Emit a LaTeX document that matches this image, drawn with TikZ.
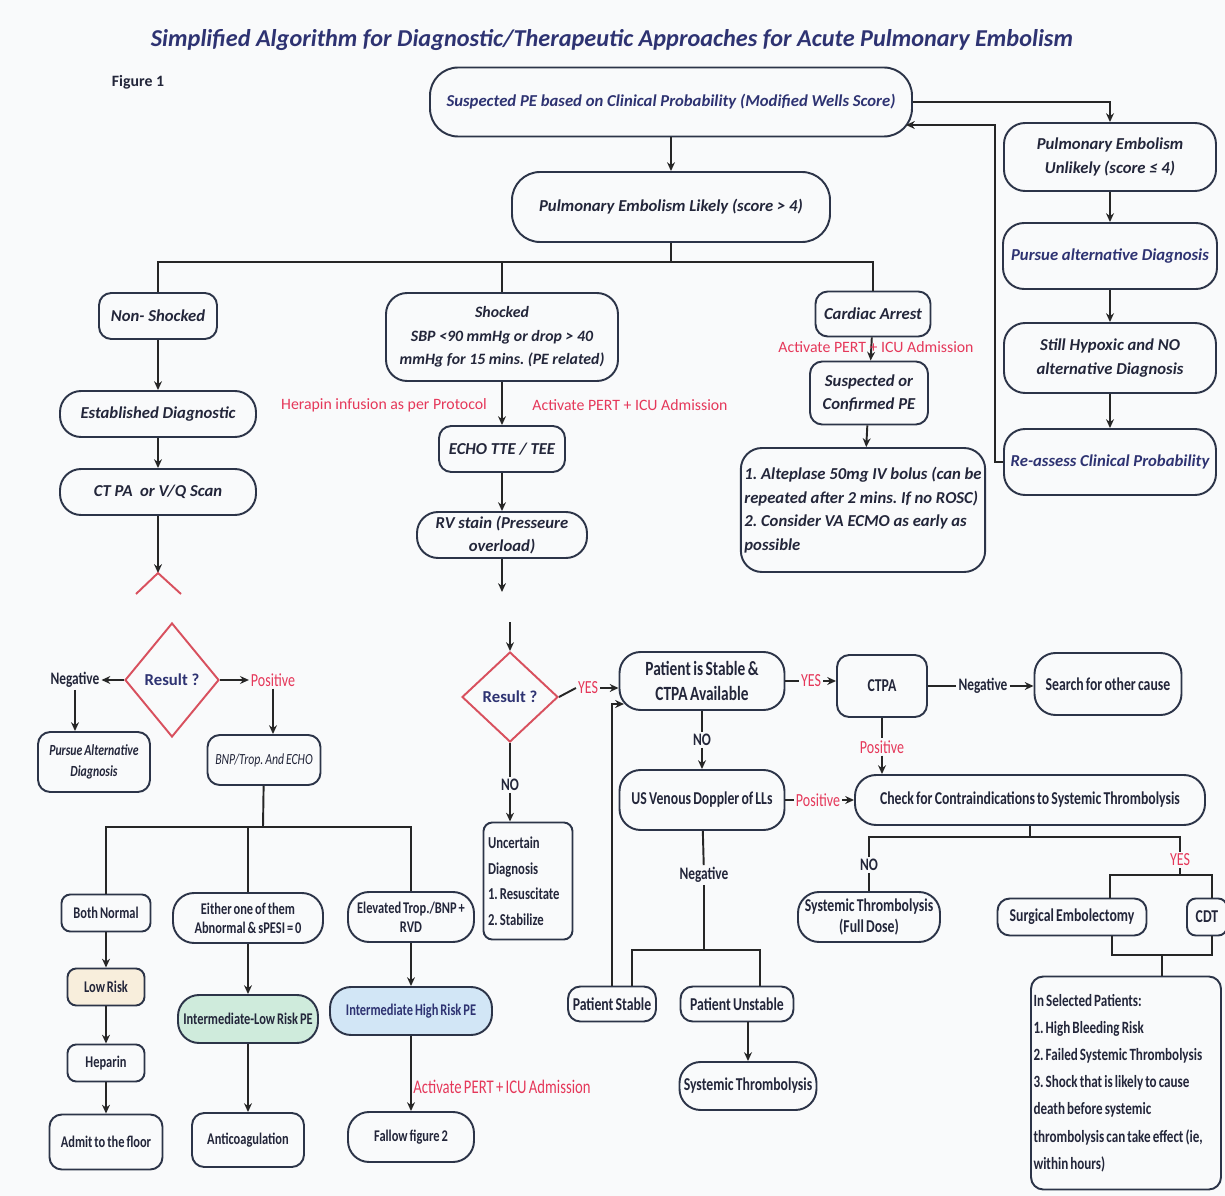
\documentclass[tikz,border=0pt]{standalone}
\usepackage{fontspec}
\setmainfont{Carlito}
\newfontfamily\narrowfont[FakeStretch=0.76,WordSpace=0.7]{Carlito}
\usetikzlibrary{arrows.meta,shapes.geometric,calc}
\frenchspacing
\newcommand\tightsp{\spaceskip=0pt\xspaceskip=0pt\relax}

\definecolor{navy}{HTML}{2E3372}
\definecolor{ink}{HTML}{23263A}
\definecolor{edgec}{HTML}{2C3448}
\definecolor{alert}{HTML}{E5385A}
\definecolor{diared}{HTML}{D8505E}
\definecolor{lowfill}{HTML}{F8EEDC}
\definecolor{midfill}{HTML}{CFEBDC}
\definecolor{highfill}{HTML}{D2E6F6}
\definecolor{bgc}{HTML}{F9FAFB}

\tikzset{
  sz/.style 2 args={minimum width=#1*0.02cm, minimum height=#2*0.02cm},
  box/.style={draw=edgec, line width=1.1pt, rounded corners=7pt, align=center, inner sep=1pt, text=ink},
  pill/.style={box, rounded corners=12pt},
  small box/.style={box, rounded corners=5pt},
  topt/.style={font=\bfseries\itshape\fontsize{9.5}{13.5}\selectfont},
  lowt/.style={font=\narrowfont\bfseries\fontsize{10.3}{14.5}\selectfont},
  tinyt/.style={font=\narrowfont\bfseries\fontsize{9.3}{11}\selectfont},
  redlab/.style={text=alert, font=\narrowfont\fontsize{10.5}{12}\selectfont, inner sep=1pt},
  toplab/.style={text=alert, font=\fontsize{9}{11}\selectfont, inner sep=1pt},
  lab/.style={text=ink, font=\narrowfont\bfseries\fontsize{10}{12}\selectfont, inner sep=1pt},
  query/.style={diamond, draw=diared, line width=1.1pt, inner sep=0pt, text=navy, font=\bfseries\fontsize{9.5}{10}\selectfont},
  conn/.style={draw=black!85, line width=1.1pt},
  >={Stealth[length=5pt,width=4.5pt]}
}

\begin{document}
\begin{tikzpicture}[x=0.02cm,y=-0.02cm]
 \fill[bgc] (0,0) rectangle (1225,1196);
 \useasboundingbox (0,0) rectangle (1225,1196);

 \node (title) at (612,40) [text=navy, font=\bfseries\itshape\fontsize{13.8}{15}\selectfont] {Simplified Algorithm for Diagnostic/Therapeutic Approaches for Acute Pulmonary Embolism};
 \node (fig) at (138,82) [text=ink, font=\bfseries\fontsize{9}{10}\selectfont] {Figure 1};

 % upper half
 \node (suspect) at (671,102) [pill, rounded corners=16pt, sz={482}{69}, topt, text=navy] {Suspected PE based on Clinical Probability (Modified Wells Score)};
 \node (likely) at (671,207) [pill, rounded corners=16pt, sz={318}{70}, topt] {Pulmonary Embolism Likely (score > 4)};
 \node (unlikely) at (1110,157) [pill, sz={212}{68}, topt] {Pulmonary Embolism\\Unlikely (score ≤ 4)};
 \node (pursue) at (1110,256) [pill, sz={214}{66}, topt, text=navy] {Pursue alternative Diagnosis};
 \node (hypoxic) at (1110,358) [pill, sz={212}{70}, topt] {Still Hypoxic and NO\\alternative Diagnosis};
 \node (reassess) at (1110,462) [pill, sz={212}{66}, topt, text=navy] {Re-assess Clinical Probability};

 \node (nonshock) at (158,316) [box, sz={118}{46}, topt] {Non- Shocked};
 \node (estab) at (158,414) [pill, sz={196}{46}, topt] {Established Diagnostic};
 \node (ctpa) at (158,492) [pill, sz={196}{46}, topt] {CT PA\ \ or V/Q Scan};

 \node (shocked) at (502,337) [pill, sz={232}{88}, topt, font=\bfseries\itshape\fontsize{9}{13.5}\selectfont] {Shocked\\SBP <90 mmHg or drop > 40\\mmHg for 15 mins. (PE related)};
 \node (heparinlab) at (384,405) [toplab] {Herapin infusion as per Protocol};
 \node (pertA) at (630,405) [toplab] {Activate PERT + ICU Admission};
 \node (echo) at (502,449) [box, sz={126}{46}, topt] {ECHO TTE / TEE};
 \node (rvstain) at (502,535) [pill, sz={170}{46}, topt] {RV stain (Presseure\\overload)};

 \node (arrest) at (873,314) [box, sz={115}{45}, topt] {Cardiac Arrest};
 \node (suspconf) at (869,393) [box, sz={118}{63}, topt] {Suspected or\\Confirmed PE};
 \node (alteplase) at (863,510) [pill, sz={243}{124}, topt, align=left, inner sep=2pt] {1. Alteplase 50mg IV bolus (can be\\repeated after 2 mins. If no ROSC)\\2. Consider VA ECMO as early as\\possible};

 \draw[conn,->] (suspect) -- (likely);
 \draw[conn,->] (suspect.east) -| (unlikely.north);
 \draw[conn,->] (unlikely) -- (pursue);
 \draw[conn,->] (pursue) -- (hypoxic);
 \draw[conn,->] (hypoxic) -- (reassess);
 \coordinate (back) at (995,125);
 \coordinate (backin) at (906,125);
 \draw[conn,->] (reassess.west) -| (back) -- (backin);

 \coordinate (split) at (671,262);
 \draw[conn] (likely) -- (split);
 \draw[conn] (nonshock.north) |- (split) -| (arrest.north);
 \draw[conn] (shocked.north) -- (shocked.north |- split);

 \draw[conn,->] (nonshock) -- (estab);
 \draw[conn,->] (estab) -- (ctpa);
 \coordinate (cutA) at (158,573);
 \draw[conn,->] (ctpa) -- (cutA);
 \draw[diared, line width=1.1pt] (136,594) -- (cutA) -- (181,594);

 \draw[conn,->] (shocked) -- (echo);
 \draw[conn,->] (echo) -- (rvstain);
 \coordinate (cutB) at (502,592);
 \draw[conn,->] (rvstain) -- (cutB);

 \draw[conn,->] (arrest) -- (suspconf);
 \node (pertB) at (876,347) [toplab] {Activate PERT + ICU Admission};
 \draw[conn,->] (suspconf) -- (alteplase);

 % lower half
 \node (res1) at (172,680) [query, sz={94}{114}] {Result ?};
 \node (neg1) at (75,680) [lab] {Negative};
 \node (pos1) at (273,680) [redlab] {Positive};
 \node (pursue2) at (94,762) [box, sz={112}{60}, font=\narrowfont\bfseries\itshape\fontsize{8.8}{12}\selectfont, text=ink] {Pursue Alternative\\Diagnosis};
 \node (bnp) at (264,760) [box, sz={113}{50}, font=\narrowfont\itshape\fontsize{8.8}{12}\selectfont] {BNP/Trop. And ECHO};

 \node (bothnorm) at (106,913) [small box, sz={89}{37}, tinyt] {Both Normal};
 \node (either) at (248,918) [pill, sz={150}{50}, tinyt] {Either one of them\\Abnormal \& sPESI = 0};
 \node (elevated) at (411,917) [pill, sz={126}{50}, tinyt] {Elevated Trop./BNP +\\RVD};
 \node (lowrisk) at (106,987) [small box, sz={77}{37}, tinyt, fill=lowfill] {Low Risk};
 \node (heparin) at (106,1063) [small box, sz={77}{37}, tinyt] {Heparin};
 \node (admit) at (106,1142) [box, sz={113}{55}, tinyt] {Admit to the floor};
 \node (intlow) at (248,1019) [pill, sz={140}{48}, tinyt, fill=midfill] {Intermediate-Low Risk PE};
 \node (anticoag) at (248,1140) [box, sz={112}{54}, tinyt] {Anticoagulation};
 \node (inthigh) at (411,1011) [pill, sz={162}{48}, tinyt, fill=highfill, text=navy] {Intermediate High Risk PE};
 \node (fallow) at (411,1137) [pill, sz={126}{50}, tinyt] {Fallow figure 2};
 \node (pertC) at (502,1087) [redlab, font=\narrowfont\fontsize{11}{12}\selectfont] {Activate PERT + ICU Admission};

 \node (res2) at (510,697) [query, sz={96}{90}] {Result ?};
 \node (no1) at (510,785) [lab] {NO};
 \node (uncertain) at (528,881) [small box, sz={89}{117}, tinyt, align=left, text width=1.6cm, font=\narrowfont\bfseries\fontsize{9.5}{14.5}\selectfont] {\tightsp Uncertain\\Diagnosis\\1. Resuscitate\\2. Stabilize};

 \node (yes1) at (588,688) [redlab] {YES};
 \node (stable) at (702,681) [pill, sz={165}{58}, font=\narrowfont\bfseries\fontsize{11.5}{14}\selectfont] {Patient is Stable \&\\CTPA Available};
 \node (yes2) at (811,681) [redlab] {YES};
 \node (ctpa2) at (882,686) [box, sz={90}{62}, lowt] {CTPA};
 \node (neg2) at (983,686) [lab] {Negative};
 \node (search) at (1108,684) [pill, sz={147}{62}, lowt] {Search for other cause};
 \node (pos2) at (882,747) [redlab] {Positive};
 \node (check) at (1030,800) [pill, sz={350}{50}, lowt] {Check for Contraindications to Systemic Thrombolysis};
 \node (no2) at (702,740) [lab] {NO};
 \node (usdop) at (702,800) [pill, sz={165}{60}, lowt] {US Venous Doppler of LLs};
 \node (pos3) at (818,800) [redlab] {Positive};
 \node (neg3) at (704,875) [lab] {Negative};
 \node (pstable) at (612,1004) [box, sz={88}{35}, lowt] {Patient Stable};
 \node (punstable) at (737,1004) [box, sz={113}{35}, lowt] {Patient Unstable};
 \node (systhromb) at (748,1086) [pill, sz={137}{48}, lowt] {Systemic Thrombolysis};
 \node (no3) at (869,865) [lab] {NO};
 \node (sysfull) at (869,917) [pill, sz={142}{50}, lowt, font=\narrowfont\bfseries\fontsize{10.3}{12}\selectfont] {Systemic Thrombolysis\\(Full Dose)};
 \node (yes3) at (1180,860) [redlab] {YES};
 \node (surgical) at (1072,917) [box, sz={149}{37}, lowt] {Surgical Embolectomy};
 \node (cdt) at (1207,917) [small box, sz={40}{37}, lowt] {CDT};
 \node (insel) at (1126,1083) [box, sz={190}{213}, align=left, text width=3.7cm, font=\narrowfont\bfseries\fontsize{9.8}{15.5}\selectfont] {\tightsp In Selected Patients:\\1. High Bleeding Risk\\2. Failed Systemic Thrombolysis\\3. Shock that is likely to cause\\death before systemic\\thrombolysis can take effect (ie,\\within hours)};

 \draw[conn,->] (res1) -- (neg1);
 \draw[conn,->] (res1) -- (pos1);
 \draw[conn,->] (neg1.south) -- (neg1.south |- pursue2.north);
 \draw[conn,->] (pos1.south) -- (pos1.south |- bnp.north);
 \coordinate (splitB) at (263,827);
 \draw[conn] (bnp) -- (splitB);
 \draw[conn] (bothnorm.north) |- (splitB) -| (elevated.north);
 \draw[conn] (either.north) -- (either.north |- splitB);
 \draw[conn,->] (bothnorm) -- (lowrisk);
 \draw[conn,->] (lowrisk) -- (heparin);
 \draw[conn,->] (heparin) -- (admit);
 \draw[conn,->] (either) -- (intlow);
 \draw[conn,->] (intlow) -- (anticoag);
 \draw[conn,->] (elevated) -- (inthigh);
 \draw[conn,->] (inthigh) -- (fallow);

 \coordinate (cutC) at (510,622);
 \draw[conn,->] (cutC) -- (res2);
 \draw[conn] (res2) -- (no1);
 \draw[conn,->] (no1) -- (no1 |- uncertain.north);
 \draw[conn] (res2.east) -- (yes1.west);
 \draw[conn,->] (yes1.east) -- (yes1.east -| stable.west);
 \draw[conn] (stable.east |- yes2) -- (yes2);
 \draw[conn,->] (yes2) -- (yes2 -| ctpa2.west);
 \draw[conn] (ctpa2.east |- neg2) -- (neg2);
 \draw[conn,->] (neg2) -- (neg2 -| search.west);
 \draw[conn] (ctpa2) -- (pos2);
 \draw[conn,->] (pos2) -- (pos2 |- check.north);
 \draw[conn] (stable) -- (no2);
 \draw[conn,->] (no2) -- (usdop);
 \draw[conn] (usdop.east |- pos3) -- (pos3);
 \draw[conn,->] (pos3) -- (pos3 -| check.west);
 \draw[conn] (usdop) -- (neg3);

 \coordinate (splitC1) at (632,950);
 \coordinate (splitC2) at (760,950);
 \draw[conn] (neg3) -- (neg3 |- splitC1);
 \draw[conn] (pstable.north -| splitC1) -- (splitC1) -- (splitC2) -- (punstable.north -| splitC2);
 \coordinate (intoStable) at (624,704);
 \draw[conn,->] (pstable.north) |- (intoStable);
 \draw[conn,->] (punstable.south -| systhromb.north) -- (systhromb.north);

 \coordinate (splitD) at (1030,837);
 \draw[conn] (check) -- (splitD);
 \draw[conn] (no3.north) |- (splitD) -| (yes3.north);
 \draw[conn] (no3) -- (sysfull);
 \coordinate (splitE) at (1180,875);
 \coordinate (splitE1) at (1110,875);
 \coordinate (splitE2) at (1212,875);
 \draw[conn] (yes3) -- (splitE);
 \draw[conn] (surgical.north -| splitE1) -- (splitE1) -- (splitE2) -- (cdt.north -| splitE2);
 \coordinate (splitF) at (1162,955);
 \coordinate (splitF1) at (1112,955);
 \coordinate (splitF2) at (1212,955);
 \draw[conn] (surgical.south -| splitF1) -- (splitF1) -- (splitF2) -- (cdt.south -| splitF2);
 \draw[conn] (splitF) -- (splitF |- insel.north);
\end{tikzpicture}
\end{document}
